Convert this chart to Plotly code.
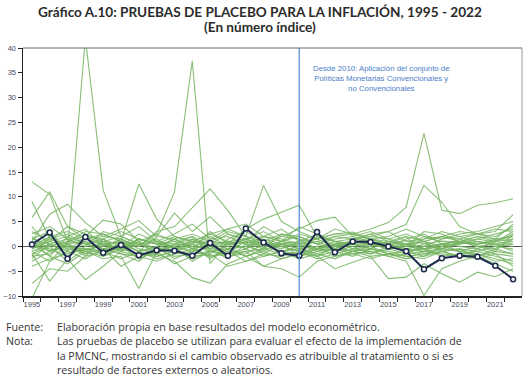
import plotly.graph_objects as go

years = list(range(1995, 2023))
x_tick_labels = [str(y) for y in range(1995, 2022, 2)]
y_ticks = [-10, -5, 0, 5, 10, 15, 20, 25, 30, 35, 40]

tratado = [0.4, 2.8, -2.5, 1.9, -1.3, 0.3, -1.8, -0.8, -0.9, -1.9, 0.7, -1.9, 3.6, 0.8,
           -1.4, -1.9, 2.9, -1.2, 1.0, 0.9, 0.0, -1.0, -4.6, -2.4, -1.9, -2.1, -3.9, -6.6]

p01 = [1.5, 0.5, -1.0, 42.0, 11.3, 2.0, 0.5, 1.0, -0.5, 0.8, 1.2, 0.3, 0.9, -0.2, 0.5, 1.0, -0.5, 0.3, 0.8, 0.4, 0.2, -0.6, 0.5, 1.1, 0.9, 0.4, 1.2, 2.0]
p02 = [0.5, -1.0, 0.8, 1.5, 0.3, -0.8, 1.0, 2.5, 11.0, 37.4, -3.5, 1.0, 0.5, 2.0, 1.0, 0.5, 1.5, 0.0, 0.8, 1.0, 0.5, 1.2, 0.6, -0.5, 0.8, 1.5, 0.9, 3.0]
p03 = [13.0, 10.5, 1.0, 2.0, 0.5, -0.5, 1.5, 0.5, 0.0, 1.0, 2.5, 1.0, -0.5, 2.0, 1.5, 0.5, 1.0, 2.0, 1.5, 1.0, 0.5, -0.5, -1.0, 0.5, 1.0, 0.5, 1.5, 1.0]
p04 = [5.8, 11.0, 4.0, 2.5, 1.0, 0.5, -1.0, 2.0, 1.5, 0.0, 1.0, 3.0, 2.0, 0.5, -0.5, 1.0, 2.5, 1.0, 0.5, 2.0, 1.5, 0.5, 2.0, 1.0, 0.5, 1.5, 2.5, 3.5]
p05 = [9.1, 1.5, 0.5, -1.5, 1.0, 2.0, 0.5, -1.0, 0.5, 1.5, 0.0, -1.0, 1.0, 0.5, 2.0, 1.5, -0.5, 0.0, 1.0, 0.5, -0.5, 0.0, 1.5, 2.0, 1.0, 0.0, -0.5, 1.5]
p06 = [0.0, 2.0, 3.0, 1.5, 2.5, 1.0, 12.6, 5.5, 2.0, 1.0, 0.5, 2.5, 1.5, 0.0, 1.0, 2.0, 0.5, 1.5, 2.0, 1.0, 0.0, 1.5, 2.5, 0.5, 1.0, 2.0, 1.0, 0.5]
p07 = [1.0, 6.5, 8.5, 4.8, 2.0, 1.5, 0.0, 3.0, 4.0, 7.7, 11.6, 7.2, 2.0, 1.0, 2.5, 1.5, 0.5, 2.0, 2.5, 1.5, 1.0, 0.5, 1.0, 2.0, 1.5, 0.5, 1.0, 2.5]
p08 = [-0.5, 1.0, 2.0, 0.5, 1.5, 3.0, 1.5, 0.5, 2.0, 1.0, 2.5, 3.5, 2.0, 12.3, 5.0, 3.0, 1.5, 2.5, 2.9, 1.5, 0.5, 2.0, 1.0, 0.0, 1.5, 2.5, 2.0, 4.0]
p09 = [2.0, -1.0, 0.5, 1.0, -0.5, 0.0, 1.5, 0.5, 1.0, 2.0, 0.0, 1.0, 1.5, 2.0, 3.5, 1.0, 1.5, 2.5, 2.5, 3.5, 4.8, 7.9, 22.8, 7.3, 6.6, 8.3, 8.8, 9.6]
p10 = [-1.0, 0.5, 1.5, 2.0, 5.3, 4.5, 1.0, -0.5, 1.5, 2.5, 1.0, 0.5, 3.5, 5.5, 6.9, 8.3, 2.0, 1.0, 1.5, 2.5, 3.0, 4.4, 12.3, 8.9, 4.0, 2.5, 3.0, 6.4]
p11 = [-2.0, -1.5, 0.5, -1.0, -2.0, -0.5, -1.5, -2.0, -1.0, 0.5, -1.0, -2.0, -1.0, -0.5, -1.5, -2.0, -1.0, -0.5, -1.5, -1.0, -2.0, -3.0, -9.9, -4.5, -3.0, -2.0, -3.5, -5.0]
p12 = [-7.5, -4.5, -5.0, -2.0, -1.0, -2.5, -1.0, -0.5, -2.0, -1.5, -1.0, -0.5, -2.0, -1.0, -2.5, -1.5, -0.5, -1.0, -2.0, -0.5, -1.5, -1.0, -0.5, -2.0, -1.5, -1.0, -2.0, -3.0]
p13 = [-10.5, -3.0, -1.0, -2.5, -0.5, -1.5, -2.0, -1.0, -0.5, -2.5, -1.0, -1.5, -0.5, -2.0, -1.0, -0.5, -1.5, -2.5, -1.0, -0.5, -1.0, -2.0, -1.5, -1.0, -0.5, -2.0, -1.0, -1.5]
p14 = [-1.5, -7.0, -2.5, -6.7, -4.0, -1.0, -2.0, -3.0, -1.5, -0.5, -2.0, -1.0, -3.0, -2.0, -1.0, -2.5, -1.5, -0.5, -1.0, -2.0, -1.5, -2.5, -2.0, -1.0, -2.0, -2.5, -1.5, -4.0]
p15 = [0.5, -2.0, -3.5, -1.0, -2.5, -2.0, -8.5, -1.0, -3.5, -2.0, -1.5, -4.0, -3.0, -1.5, -2.0, -1.0, -2.5, -1.5, -0.5, -1.0, -2.0, -1.5, -1.0, -0.5, -1.0, -1.5, -2.5, -3.5]
p16 = [-3.0, -1.0, 0.0, -1.5, -0.5, -4.0, -2.0, -1.5, -3.0, -6.3, -7.4, -3.5, -2.0, -4.0, -2.5, -1.5, -2.0, -4.5, -3.2, -2.0, -6.5, -6.2, -3.5, -5.5, -7.2, -5.2, -6.1, -4.5]
p17 = [-4.0, -2.5, -1.5, -0.5, -1.0, 0.5, -1.0, -2.5, -1.5, -1.0, -2.0, -1.5, -1.0, -4.0, -4.5, -6.2, -3.0, -2.0, -1.5, -2.5, -1.5, -2.0, -2.5, -1.0, -2.0, -1.5, -3.0, -2.5]
p18 = [3.0, 1.0, 4.0, 1.5, 2.0, 3.5, 5.2, 2.0, 6.7, 3.0, 6.0, 2.5, 1.0, 4.0, 2.0, 3.5, 5.2, 5.9, 2.0, 3.0, 1.5, 2.5, 1.0, 2.0, 3.0, 2.5, 1.5, 2.0]
p19 = [0.5, 0.0, 1.0, 0.5, -0.5, 0.5, 0.0, 1.0, 0.5, 0.0, -0.5, 0.5, 1.0, 0.0, 0.5, -0.5, 0.0, 0.5, 1.0, 0.5, 0.0, 0.5, -0.5, 0.0, 0.5, 1.0, 0.5, 0.0]
p20 = [-0.5, 1.5, 2.5, 0.5, 1.0, -1.0, 0.5, 1.5, -0.5, 0.5, 2.0, 0.0, 1.5, 0.5, -1.0, 0.0, 1.0, -0.5, 0.5, 1.5, 0.5, -1.0, 0.0, 1.5, 2.0, 1.0, 0.5, 1.0]
p21 = [1.0, -2.0, 2.0, 3.5, 0.0, 1.5, -0.5, -1.5, 0.5, 2.0, -1.5, 1.5, 3.0, 1.0, 0.0, -1.0, 2.0, 1.0, -0.5, 0.0, 1.0, 2.0, -1.5, -0.5, 1.0, 0.0, -1.0, 2.5]
p22 = [-2.5, 0.5, -1.5, 1.0, -2.0, 0.0, 1.0, -2.0, -1.0, 1.5, -0.5, -2.5, 0.5, -1.5, 0.5, -2.0, -0.5, 0.5, 0.0, -1.5, -0.5, 0.0, 1.0, -1.0, -0.5, -1.0, 0.0, -0.5]
p23 = [2.5, 4.0, 1.5, 0.0, 3.0, 2.0, 4.0, 1.0, 2.5, 4.5, 1.5, 3.5, 4.5, 2.0, 1.0, 2.5, 1.5, 3.5, 2.5, 1.5, 2.0, 3.5, 2.0, 1.5, 2.5, 3.0, 4.0, 5.0]
p24 = [-1.0, -3.0, 0.5, -2.0, 1.5, -1.5, -3.0, 0.0, -2.5, -1.0, 0.0, -2.0, -1.5, 0.5, -1.0, -1.5, 0.0, -2.0, -1.0, 0.0, -1.5, -2.5, -1.0, -1.5, -2.0, -0.5, -1.5, -2.0]
p25 = [0.0, -0.5, -2.0, 0.0, 0.5, 1.0, -1.0, 0.0, 1.5, -0.5, 0.5, 1.0, -0.5, 1.0, 0.0, 0.5, -1.0, 0.0, 0.5, -0.5, 1.0, 0.0, -0.5, 0.5, 0.0, -0.5, 1.0, 1.5]
p26 = [1.5, 3.0, -1.0, 2.0, 1.5, 0.0, 2.5, 1.0, 0.0, -1.0, 1.5, 2.0, 0.5, -0.5, 2.5, 2.0, 0.5, -0.5, 1.5, 2.0, 3.0, 1.0, 1.5, 3.0, 2.0, 2.5, 3.5, 3.0]
p27 = [-2.0, 2.0, -0.5, -1.0, 0.5, -0.5, 1.5, 0.5, -1.0, 0.0, -2.5, -0.5, 0.0, -1.0, 1.0, 0.0, -2.0, -1.0, 0.0, 0.5, -0.5, -1.5, 0.0, 0.5, -1.0, 0.0, 0.5, -1.0]
p28 = [4.0, 0.0, 1.0, 3.0, 2.5, 1.0, 0.0, 2.5, 1.0, -0.5, 3.0, 0.5, 1.5, 3.0, 1.0, 4.0, 2.5, 0.0, 1.0, 2.5, 1.0, 0.0, 3.0, 2.5, 1.0, 2.0, 1.5, 4.5]
p29 = [-1.5, 0.0, -3.0, -0.5, -1.5, 0.0, -2.5, -1.0, 0.0, -3.0, -1.0, 0.0, -2.0, -0.5, 0.0, -1.0, -2.0, 0.0, -1.0, -1.5, 0.0, -1.0, -2.0, 0.0, -1.0, -2.0, -0.5, -1.5]
p30 = [0.5, 1.0, 0.0, -0.5, 0.0, 1.0, 0.5, -0.5, 0.0, 1.0, 0.5, -0.5, 0.0, 1.5, 0.5, 0.0, -0.5, 1.0, 0.5, 0.0, 1.0, 0.5, 0.0, -0.5, 0.5, 1.0, 0.0, 0.5]

placebos = [p01, p02, p03, p04, p05, p06, p07, p08, p09, p10, p11, p12, p13, p14, p15,
            p16, p17, p18, p19, p20, p21, p22, p23, p24, p25, p26, p27, p28, p29, p30]

GREEN = "rgba(118,180,98,0.85)"
NAVY = "#1e2a4f"
BLUE_LINE = "#4f86d0"

FIG_W, FIG_H = 530, 383
PL, PR, PT, PB = 23, 522, 48, 296   # plot box in pixels

fig = go.Figure()
for s in placebos:
    fig.add_trace(go.Scatter(x=years, y=s, mode="lines",
                             line=dict(color=GREEN, width=1.1),
                             hoverinfo="skip", showlegend=False))

fig.add_trace(go.Scatter(x=years, y=tratado, mode="lines+markers",
                         line=dict(color=NAVY, width=2),
                         marker=dict(size=5, color="white", line=dict(color=NAVY, width=1.5)),
                         showlegend=False))

fig.add_shape(type="line", xref="x", yref="paper", x0=2010, x1=2010, y0=0, y1=1,
              line=dict(color=BLUE_LINE, width=1.2))
fig.add_shape(type="line", xref="paper", yref="paper", x0=0, x1=1, y0=1, y1=1,
              line=dict(color="#666666", width=1))
fig.add_shape(type="line", xref="paper", yref="paper", x0=1, x1=1, y0=0, y1=1,
              line=dict(color="#999999", width=1))

fig.update_xaxes(range=[1994.5, 2022.5], automargin=False,
                 tickmode="array", tickvals=list(range(1995, 2022, 2)), ticktext=x_tick_labels,
                 ticks="", showgrid=False, zeroline=False,
                 showline=True, linecolor="#222222", linewidth=1.5,
                 tickfont=dict(family="Liberation Sans", size=7.5, color="#444a5a"),
                 minor=dict(ticks="outside", tickmode="array",
                            tickvals=[y + 0.5 for y in range(1994, 2022)],
                            ticklen=4, tickcolor="#222222", tickwidth=1, showgrid=False))
fig.update_yaxes(range=[-10, 40], automargin=False, tickmode="array", tickvals=y_ticks,
                 ticks="outside", ticklen=4, tickcolor="#222222",
                 showgrid=False, zeroline=True, zerolinecolor="#555555", zerolinewidth=1,
                 showline=True, linecolor="#222222", linewidth=1.5,
                 tickfont=dict(family="Liberation Sans", size=7.5, color="#444a5a"))


def px_x(px):
    return (px - PL) / (PR - PL)


def px_y(py):
    return (PB - py) / (PB - PT)


ann_font = dict(family="Liberation Sans", size=7.8, color="#4a7ec9")
fig.add_annotation(xref="paper", yref="paper", x=px_x(381), y=px_y(78),
                   xanchor="center", yanchor="middle",
                   text="Desde 2010: Aplicación del conjunto de<br>Políticas Monetarias Convencionales y<br>no Convencionales",
                   showarrow=False, font=ann_font, align="center")

title_font = dict(family="Lato", size=13.6, color="#2b2b2b")
fig.add_annotation(xref="paper", yref="paper", x=px_x(259.5), y=px_y(12), showarrow=False,
                   xanchor="center", yanchor="middle",
                   text="<b>Gráfico A.10: PRUEBAS DE PLACEBO PARA LA INFLACIÓN, 1995 - 2022</b>",
                   font=title_font)
fig.add_annotation(xref="paper", yref="paper", x=px_x(259.5), y=px_y(27), showarrow=False,
                   xanchor="center", yanchor="middle",
                   text="<b>(En número índice)</b>", font=title_font)

note_font = dict(family="Open Sans", size=10.65, color="#333333")
fig.add_annotation(xref="paper", yref="paper", x=px_x(4), y=px_y(327), xanchor="left",
                   yanchor="middle", showarrow=False, text="Fuente:", font=note_font)
fig.add_annotation(xref="paper", yref="paper", x=px_x(4), y=px_y(341), xanchor="left",
                   yanchor="middle", showarrow=False, text="Nota:", font=note_font)
lines = ["Elaboración propia en base resultados del modelo econométrico.",
         "Las pruebas de placebo se utilizan para evaluar el efecto de la implementación de",
         "la PMCNC, mostrando si el cambio observado es atribuible al tratamiento o si es",
         "resultado de factores externos o aleatorios."]
for txt, py in zip(lines, [327, 341, 356, 370]):
    fig.add_annotation(xref="paper", yref="paper", x=px_x(55), y=px_y(py), xanchor="left",
                       yanchor="middle", showarrow=False, text=txt, font=note_font)

fig.update_layout(width=FIG_W, height=FIG_H,
                  margin=dict(l=PL, r=FIG_W - PR, t=PT, b=FIG_H - PB),
                  plot_bgcolor="white", paper_bgcolor="white")

fig.write_html("out.html", config={"displayModeBar": False, "staticPlot": True},
               post_script="document.body.style.margin='0';document.body.style.overflow='hidden';")
